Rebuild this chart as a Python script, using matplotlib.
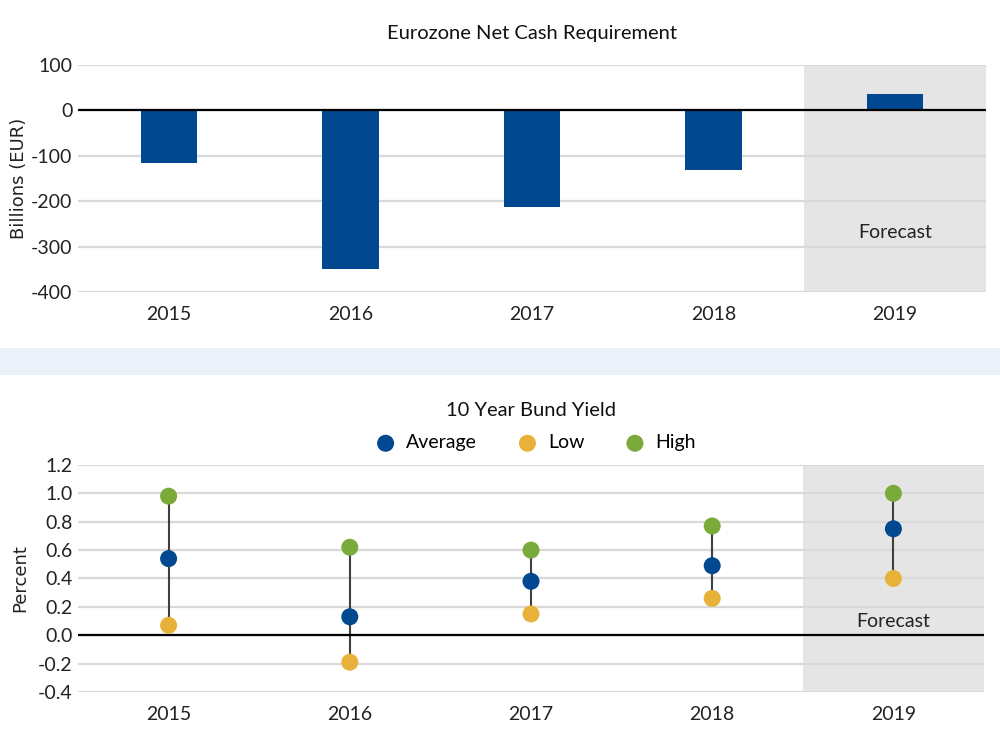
import numpy as np
import matplotlib
matplotlib.use("Agg")
import matplotlib.pyplot as plt
from matplotlib.patches import Rectangle

plt.rcParams['font.family'] = ['Lato', 'DejaVu Sans']

years = ['2015', '2016', '2017', '2018', '2019']
cash_req = [-115, -350, -213, -132, 37]

yield_avg = [0.54, 0.13, 0.38, 0.49, 0.75]
yield_low = [0.07, -0.19, 0.15, 0.26, 0.40]
yield_high = [0.98, 0.62, 0.60, 0.77, 1.00]

navy = '#004990'
gold = '#E8B23A'
green = '#7AAA3A'
grid_c = '#D9D9D9'
shade = '#E5E5E5'

fig = plt.figure(figsize=(10, 7.52), dpi=100)
fig.patches.append(Rectangle((0, 0.5013), 1, 0.0359, transform=fig.transFigure,
                             facecolor='#EAF1F8', edgecolor='none', zorder=0))

x = np.arange(len(years))

# top chart
ax1 = fig.add_axes([0.078, 0.6117, 0.908, 0.302])
ax1.axvspan(3.5, 4.5, color=shade, zorder=0, lw=0)
ax1.bar(x, cash_req, width=0.31, color=navy, zorder=3)
ax1.axhline(0, color='black', lw=1.6, zorder=4)
ax1.set_xlim(-0.5, 4.5)
ax1.set_ylim(-400, 100)
ax1.set_yticks([100, 0, -100, -200, -300, -400])
ax1.set_yticklabels(['100', '0', '-100', '-200', '-300', '-400'])
ax1.set_xticks(x)
ax1.set_xticklabels(years)
ax1.set_ylabel('Billions (EUR)', fontsize=13, family='DejaVu Sans', labelpad=2, color='#222222')
ax1.text(4, -270, 'Forecast', ha='center', va='center', fontsize=14, color='#222222', zorder=5)
ax1.set_title('Eurozone Net Cash Requirement', fontsize=14.5, pad=19, color='#111111')

# bottom chart
ax2 = fig.add_axes([0.078, 0.0798, 0.906, 0.3019])
ax2.axvspan(3.5, 4.5, color=shade, zorder=0, lw=0)
ax2.vlines(x, yield_low, yield_high, color='#404040', lw=1.5, zorder=3)
ax2.scatter(x, yield_avg, s=150, color=navy, zorder=5, label='Average', edgecolors='none')
ax2.scatter(x, yield_low, s=150, color=gold, zorder=5, label='Low', edgecolors='none')
ax2.scatter(x, yield_high, s=150, color=green, zorder=5, label='High', edgecolors='none')
ax2.axhline(0, color='black', lw=1.6, zorder=4)
ax2.set_xlim(-0.5, 4.5)
ax2.set_ylim(-0.4, 1.2)
ax2.set_yticks(np.arange(-0.4, 1.21, 0.2))
ax2.set_yticklabels(['%.1f' % v for v in np.arange(-0.4, 1.21, 0.2)])
ax2.set_xticks(x)
ax2.set_xticklabels(years)
ax2.set_ylabel('Percent', fontsize=13, family='DejaVu Sans', labelpad=6, color='#222222')
ax2.text(4, 0.1, 'Forecast', ha='center', va='center', fontsize=14, color='#222222', zorder=5)
ax2.set_title('10 Year Bund Yield', fontsize=14.5, pad=35, color='#111111')
ax2.legend(loc='lower center', bbox_to_anchor=(0.5, 1.0), ncol=3, frameon=False,
           fontsize=14, handletextpad=0.05, columnspacing=1.6, borderaxespad=0.3)

for ax in (ax1, ax2):
    ax.grid(axis='y', color=grid_c, lw=1.6, zorder=1)
    ax.set_axisbelow(True)
    for s in ax.spines.values():
        s.set_visible(False)
    ax.tick_params(length=0, labelsize=14, pad=10, labelcolor='#222222')
    ax.tick_params(axis='y', pad=4)

fig.savefig('out.png', dpi=100)
